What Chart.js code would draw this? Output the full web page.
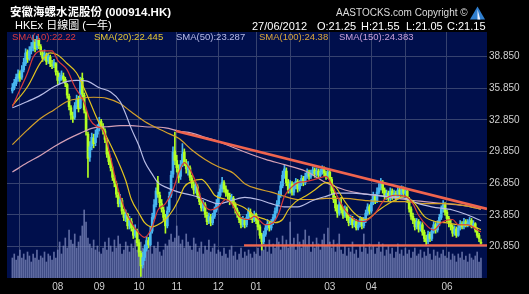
<!DOCTYPE html>
<html><head><meta charset="utf-8">
<script src="https://cdn.jsdelivr.net/npm/chart.js@4/dist/chart.umd.min.js"></script>
<style>
html,body{margin:0;padding:0;background:#000;}
#wrap{position:relative;width:529px;height:294px;overflow:hidden;background:#000;font-family:"Liberation Sans","Noto Sans CJK TC",Arial,sans-serif;}
canvas{position:absolute;left:0;top:0;}
.t{position:absolute;white-space:nowrap;line-height:1;}
</style></head><body>
<div id="wrap">
<canvas id="c" width="529" height="294"></canvas>
<div class="t" style="left:10px;top:7px;font-size:11.5px;font-weight:bold;color:#fff">安徽海螺水泥股份 (000914.HK)</div>
<div class="t" style="left:15px;top:20px;font-size:11px;color:#fff">HKEx 日線圖 (一年)</div>
<div class="t" style="left:336px;top:8px;font-size:10px;color:#dcdcdc">AASTOCKS.com Copyright ©</div>
<svg style="position:absolute;left:469px;top:5px" width="17" height="16" viewBox="0 0 18 16"><polygon points="9,1 17,15 1,15" fill="#2f7fd0"/><polygon points="9,4 12,15 9,15" fill="#e8f0ff"/></svg>
<div class="t" style="left:252px;top:21px;font-size:11px;color:#fff">27/06/2012</div>
<div class="t" style="left:317px;top:21px;font-size:11px;color:#fff">O:21.25</div>
<div class="t" style="left:361px;top:21px;font-size:11px;color:#fff">H:21.55</div>
<div class="t" style="left:406px;top:21px;font-size:11px;color:#fff">L:21.05</div>
<div class="t" style="left:447px;top:21px;font-size:11px;color:#fff">C:21.15</div>
<div class="t" style="left:12px;top:32px;font-size:9.5px;color:#e03c3c">SMA(10):22.22</div>
<div class="t" style="left:94px;top:32px;font-size:9.5px;color:#e6c832">SMA(20):22.445</div>
<div class="t" style="left:176px;top:32px;font-size:9.5px;color:#b8bce8">SMA(50):23.287</div>
<div class="t" style="left:259px;top:32px;font-size:9.5px;color:#dca83a">SMA(100):24.38</div>
<div class="t" style="left:339px;top:32px;font-size:9.5px;color:#c8a0d8">SMA(150):24.383</div>
</div>
<script>
// ---- data (daily, 27/06/2011 .. 27/06/2012; index = trading day) ----
const opens = [
35.6,35.9,36.3,36.8,37.3,36.9,37.6,38.2,39.3,38.7,
39.4,39.7,40.3,39.7,40.4,39.8,39.2,38.8,39.0,38.5,
38.8,38.1,38.0,38.2,37.3,36.6,36.8,37.0,36.7,36.2,
35.1,34.0,33.2,33.1,34.1,34.9,34.0,36.8,35.2,33.6,
31.5,29.3,30.4,31.1,30.7,31.5,32.1,32.7,32.2,31.8,
30.9,29.6,28.9,28.2,27.3,26.8,25.7,24.9,25.2,24.1,
23.5,23.9,22.8,23.2,22.5,21.9,22.3,21.2,20.2,19.1,
19.8,20.6,21.4,21.0,22.3,23.5,24.8,27.0,25.7,24.9,
24.3,23.5,22.8,24.3,25.7,27.7,29.9,29.0,28.2,27.5,
28.7,29.8,28.7,28.1,28.3,27.3,26.7,26.2,26.5,25.6,
25.0,24.5,24.8,23.8,23.3,23.6,23.1,23.7,24.3,24.9,
25.7,26.3,26.9,26.3,25.9,25.7,25.1,25.4,24.8,24.3,
23.9,23.4,22.9,23.3,22.9,23.6,24.1,23.7,23.4,23.9,
23.3,22.7,21.9,21.3,22.0,22.6,23.0,22.6,23.1,23.6,
24.2,24.9,25.7,26.6,27.6,28.0,26.9,26.2,26.8,26.0,
26.6,27.0,26.3,26.8,27.3,26.9,27.5,27.9,27.5,27.8,
28.1,27.7,28.0,27.6,27.9,28.2,27.8,27.5,27.9,27.2,
26.0,25.3,24.5,24.0,24.8,24.3,23.8,24.4,23.6,23.1,
23.5,22.9,23.2,22.6,22.9,23.4,22.8,23.3,24.0,24.6,
24.2,25.0,25.6,25.2,26.0,26.4,26.9,26.2,25.6,25.9,
25.4,26.1,25.6,25.9,25.5,26.2,25.8,26.3,25.9,26.1,
25.3,24.4,23.7,23.3,22.7,23.2,22.5,22.9,22.2,21.6,
21.3,22.0,21.6,22.3,22.9,22.4,23.0,23.6,24.4,24.8,
24.1,23.5,23.0,22.7,22.1,22.5,21.9,22.6,23.0,22.7,
23.2,22.9,23.1,23.3,22.8,23.0,22.4,21.9,21.25];
const highs = [
36.3,36.7,37.2,37.6,37.5,38.0,38.7,39.6,39.5,39.8,
40.2,40.9,40.5,40.8,40.6,40.0,39.4,39.5,39.2,39.2,
39.0,38.5,38.6,38.3,37.5,37.3,37.5,37.3,36.9,36.3,
35.3,34.2,33.6,34.5,35.2,35.1,36.9,37.3,35.4,33.8,
31.7,30.8,31.6,31.5,31.9,32.4,33.1,32.9,32.5,32.0,
31.1,29.9,29.2,28.4,27.6,27.0,26.0,25.8,25.4,24.4,
24.3,24.0,23.7,23.5,22.8,22.9,22.5,21.5,20.4,20.3,
21.0,21.8,21.7,22.7,24.0,25.3,26.4,27.5,26.0,25.3,
24.6,23.9,24.6,26.0,28.0,30.3,31.7,29.5,28.6,29.0,
30.6,30.1,29.1,28.9,28.5,27.6,27.0,26.9,26.7,25.9,
25.3,25.2,25.0,24.1,24.0,23.9,24.0,24.6,25.3,26.0,
26.7,27.4,27.1,26.6,26.2,25.9,25.8,25.6,25.0,24.5,
24.1,23.6,23.7,23.5,23.9,24.5,24.4,23.9,24.2,24.0,
23.6,22.9,22.1,22.3,22.9,23.4,23.2,23.4,23.9,24.5,
25.2,26.1,27.0,28.0,28.6,28.3,27.2,27.1,27.0,26.9,
27.3,27.2,27.1,27.6,27.5,27.8,28.2,28.1,28.1,28.4,
28.3,28.3,28.2,28.2,28.5,28.4,28.0,28.2,28.1,27.4,
26.3,25.6,24.8,25.3,25.5,24.6,24.7,24.6,23.8,23.8,
23.7,23.5,23.4,23.2,23.7,23.6,23.6,24.3,24.9,24.8,
25.3,26.0,25.8,26.4,26.8,27.3,27.1,26.4,26.2,26.1,
26.4,26.3,26.2,26.1,26.5,26.4,26.6,26.5,26.4,26.3,
25.5,24.6,24.0,23.5,23.5,23.4,23.2,23.1,22.4,21.9,
22.3,22.2,22.6,23.2,23.1,23.3,23.9,24.7,25.2,25.0,
24.3,23.7,23.4,22.9,22.8,22.7,22.9,23.3,23.2,23.5,
23.4,23.4,23.6,23.5,23.3,23.1,22.6,22.1,21.55];
const lows = [
35.4,35.7,36.1,36.5,36.5,36.7,37.4,38.0,38.3,38.5,
39.1,39.4,39.3,39.5,39.6,39.0,38.4,38.5,38.1,38.2,
37.9,37.7,37.8,37.1,36.2,36.3,36.6,36.4,36.0,34.9,
33.8,32.9,32.6,32.9,33.9,33.6,33.9,35.0,33.5,31.4,
27.4,28.9,30.0,30.2,30.4,31.2,31.8,32.0,31.5,30.7,
29.3,28.6,28.0,27.1,26.5,25.5,24.6,24.6,23.9,23.3,
23.2,22.5,22.5,22.3,21.6,21.7,20.9,19.9,18.0,18.8,
19.5,20.4,20.7,20.9,22.1,23.4,24.6,25.5,24.5,24.1,
23.3,22.1,22.6,24.1,25.5,27.4,28.6,27.9,26.9,27.2,
28.4,28.5,27.8,27.6,27.1,26.4,25.8,25.9,25.4,24.8,
24.2,24.2,23.6,22.9,23.0,22.8,22.9,23.5,24.1,24.7,
25.5,26.0,26.0,25.6,25.3,24.8,24.9,24.5,24.0,23.6,
23.1,22.6,22.7,22.6,22.7,23.4,23.4,23.1,23.2,23.0,
22.4,21.6,20.5,21.1,21.8,22.4,22.3,22.4,22.9,23.4,
24.0,24.7,25.5,26.4,27.3,26.6,25.9,25.9,25.7,25.7,
26.3,26.0,26.1,26.6,26.6,26.7,27.3,27.2,27.3,27.6,
27.4,27.5,27.3,27.4,27.7,27.5,27.2,27.3,27.0,25.8,
25.0,24.2,23.6,23.8,24.0,23.5,23.6,23.3,22.8,22.9,
22.6,22.7,22.4,22.4,22.7,22.5,22.6,23.1,23.8,23.9,
24.0,24.8,24.9,25.0,25.8,26.2,25.9,25.3,25.3,25.1,
25.2,25.3,25.4,25.2,25.3,25.5,25.6,25.6,25.7,25.0,
24.1,23.4,23.0,22.4,22.5,22.2,22.3,21.9,21.3,21.0,
21.1,21.3,21.4,22.1,22.1,22.2,22.8,23.4,24.1,23.8,
23.2,22.7,22.4,21.8,21.9,21.7,21.8,22.4,22.5,22.5,
22.7,22.7,22.9,22.6,22.6,22.2,21.7,21.3,21.05];
const closes = [
35.9,36.4,36.9,37.2,36.8,37.6,38.3,39.2,38.6,39.4,
39.8,40.2,39.6,40.5,39.9,39.3,38.7,39.1,38.4,38.9,
38.2,38.0,38.3,37.4,36.6,36.9,37.1,36.7,36.3,35.2,
34.1,33.3,33.0,34.2,34.8,33.9,36.6,35.3,33.8,31.8,
29.2,30.3,31.2,30.6,31.5,32.0,32.6,32.3,31.8,31.0,
29.6,28.9,28.3,27.4,26.9,25.8,24.9,25.3,24.2,23.6,
23.9,22.8,23.3,22.6,21.9,22.4,21.2,20.3,19.0,19.8,
20.6,21.4,21.0,22.3,23.6,24.8,26.1,25.8,25.0,24.4,
23.6,22.8,24.2,25.6,27.6,29.8,29.0,28.3,27.4,28.6,
29.6,28.8,28.2,28.4,27.4,26.8,26.2,26.6,25.7,25.1,
24.5,24.9,23.9,23.2,23.7,23.1,23.7,24.3,24.9,25.7,
26.3,26.9,26.3,25.9,25.7,25.1,25.5,24.8,24.3,23.9,
23.4,22.9,23.4,22.9,23.6,24.2,23.7,23.4,23.9,23.3,
22.7,21.9,21.3,22.0,22.6,23.0,22.6,23.1,23.6,24.2,
24.9,25.7,26.6,27.6,28.2,26.9,26.2,26.8,26.0,26.6,
27.0,26.3,26.8,27.3,26.9,27.5,27.9,27.5,27.8,28.1,
27.7,28.0,27.6,27.9,28.2,27.8,27.5,27.9,27.3,26.1,
25.3,24.5,24.0,24.8,24.3,23.8,24.4,23.6,23.1,23.5,
22.9,23.2,22.6,22.9,23.4,22.8,23.3,24.0,24.6,24.2,
25.0,25.6,25.2,26.0,26.4,26.9,26.2,25.6,25.9,25.4,
26.1,25.6,25.9,25.5,26.2,25.8,26.3,25.9,26.1,25.3,
24.4,23.7,23.3,22.7,23.2,22.5,22.9,22.2,21.6,21.3,
22.0,21.6,22.3,22.9,22.4,23.0,23.6,24.4,24.8,24.1,
23.5,23.0,22.7,22.1,22.5,21.9,22.6,23.0,22.7,23.2,
22.9,23.1,23.3,22.8,23.0,22.4,21.9,21.6,21.15];
const volumes = [
10,12,9,11,14,10,12,9,13,11,8,12,10,14,9,11,10,13,8,12,11,9,13,10,
14,18,12,16,20,15,24,19,17,22,15,18,21,26,34,28,20,17,15,19,14,16,13,
12,15,18,14,20,16,13,19,15,21,17,12,14,18,16,13,17,15,19,14,16,
18,15,13,17,14,19,12,16,15,18,13,11,14,17,16,19,22,18,20,26,
21,17,19,15,22,18,16,14,20,17,13,15,18,12,16,14,19,13,15,17,12,14,
13,11,15,12,10,14,16,11,13,9,12,15,10,13,11,14,12,10,13,
12,15,11,18,14,16,13,19,12,17,15,20,18,14,21,16,19,15,28,
17,20,14,22,18,15,19,24,16,21,13,18,15,20,17,14,19,22,16,25,18,
15,19,13,17,22,14,12,16,11,15,13,18,12,14,10,16,13,22,15,12,17,14,
16,12,15,18,13,17,11,14,16,12,15,10,13,17,12,14,11,15,
12,14,10,13,15,11,12,14,10,13,11,15,12,9,14,11,13,10,12,14,11,
10,13,9,12,11,8,12,10,13,9,11,8,12,10,9,11,13,8,10];

// moving averages: [day index, value]
const sma10 = [[0,34.1],[4,35.7],[8,37.3],[11,38.8],[15,39.4],[21,39.4],[24,38.5],[29,37.6],[33,36.0],[38,34.5],[41,32.9],[45,32.2],[48,31.9],[52,29.3],[55,26.9],[59,24.6],[63,23.1],[67,22.1],[70,21.7],[74,22.7],[77,24.3],[81,24.9],[85,26.2],[88,27.8],[91,28.8],[95,27.8],[98,26.5],[100,25.3],[105,24.3],[109,24.6],[113,25.3],[116,24.9],[120,23.7],[125,23.4],[128,23.7],[134,22.9],[138,23.1],[141,24.0],[144,25.6],[148,26.5],[151,26.9],[155,27.0],[160,27.2],[166,27.5],[169,26.7],[172,25.6],[176,24.3],[181,23.4],[186,23.2],[192,24.0],[197,25.3],[203,25.7],[208,25.6],[212,24.9],[215,23.8],[220,22.7],[223,22.4],[227,23.1],[233,23.4],[236,22.9],[241,22.9],[246,22.4],[248,22.22]];
const sma20 = [[0,34.2],[8,36.0],[15,38.3],[20,39.2],[24,39.0],[29,38.2],[34,37.3],[40,35.0],[45,32.9],[50,31.2],[55,29.3],[60,27.1],[63,25.3],[67,24.0],[70,23.1],[74,22.7],[77,22.9],[81,23.4],[85,24.3],[88,25.3],[91,26.5],[95,27.0],[100,27.2],[104,26.5],[107,25.7],[113,25.3],[118,24.9],[123,24.5],[128,23.8],[134,23.4],[139,23.1],[143,23.4],[146,24.3],[150,25.1],[155,25.6],[160,26.2],[166,26.9],[171,26.5],[176,25.1],[181,24.0],[187,23.4],[194,24.3],[201,25.1],[208,25.6],[213,24.9],[218,23.7],[224,23.2],[229,23.1],[236,22.9],[243,22.8],[248,22.445]];
const sma50 = [[0,34.0],[8,34.6],[15,35.2],[22,36.0],[29,36.5],[34,36.6],[40,36.5],[46,35.9],[52,35.5],[57,34.6],[60,33.4],[63,32.0],[67,30.4],[70,28.9],[74,27.7],[77,26.9],[82,26.4],[88,26.0],[95,25.7],[102,25.3],[109,24.9],[116,25.2],[123,25.5],[130,25.3],[137,24.9],[144,24.6],[151,24.6],[159,25.2],[166,25.6],[172,25.9],[180,25.9],[187,25.8],[197,25.6],[208,25.4],[215,24.9],[222,24.6],[233,24.3],[240,23.9],[248,23.287]];
const sma100 = [[0,30.5],[8,31.9],[15,33.0],[22,33.8],[29,34.6],[36,34.9],[43,35.0],[50,34.9],[57,34.4],[63,33.6],[70,32.7],[81,31.7],[88,31.1],[95,30.0],[102,29.1],[109,28.4],[117,27.8],[123,26.8],[130,26.3],[137,26.0],[144,25.6],[151,25.3],[159,25.3],[166,25.4],[176,25.4],[187,25.2],[197,25.1],[208,25.1],[218,24.9],[229,24.9],[240,24.7],[248,24.38]];
const sma150 = [[0,27.9],[8,28.8],[15,29.5],[22,30.3],[29,31.0],[36,31.6],[43,32.1],[50,32.2],[57,32.3],[63,32.3],[70,32.2],[81,32.1],[88,31.8],[95,31.6],[102,31.2],[109,30.8],[116,30.3],[123,29.8],[134,29.1],[144,28.6],[155,28.0],[166,26.9],[176,26.2],[187,25.8],[197,25.6],[208,25.3],[218,25.1],[229,24.9],[240,24.7],[248,24.383]];
// drawn trend lines
const trendDown = [[86.6,31.8],[251.2,24.4]];
const support = [[122.6,20.95],[251.2,20.95]];
// axes
const monthIdx = [4,24,46,67,87,109,129,147,168,190,208,230];
const monthLabels = ['','08','09','10','11','12','01','','03','04','','06'];
const yTicks = [20.85,23.85,26.85,29.85,32.85,35.85,38.85];
const yTickLabels = ['20.850','23.850','26.850','29.850','32.850','35.850','38.850'];

// ---- chart ----
const UP = '#48b6f0', DOWN = '#b2ff22';
const candleColor = ctx => {
  const i = ctx.dataIndex;
  return closes[i] >= opens[i] ? UP : DOWN;
};
const pts = arr => arr.map(p => ({x:p[0], y:p[1]}));
const lineDs = (label, arr, color, order, w) => ({
  type:'line', label, data: pts(arr), borderColor: color, borderWidth: w || 1.2,
  pointRadius: 0, cubicInterpolationMode: 'monotone', order, fill: false
});
Chart.defaults.font.family = "'Liberation Sans', Arial, sans-serif";

const bgPlugin = {
  id: 'bg',
  beforeDraw(chart) {
    const {ctx, chartArea: a} = chart;
    ctx.save();
    ctx.fillStyle = '#000';
    ctx.fillRect(0, 0, chart.width, chart.height);
    ctx.fillStyle = '#000f4c';
    ctx.fillRect(a.left, a.top, a.right - a.left, a.bottom - a.top);
    ctx.restore();
  }
};

new Chart(document.getElementById('c'), {
  type: 'bar',
  data: {
    datasets: [
      Object.assign(lineDs('trend', trendDown, '#f0644e', 0, 2.6), {cubicInterpolationMode:'default'}),
      Object.assign(lineDs('support', support, '#f0644e', 0, 2.2), {cubicInterpolationMode:'default'}),
      lineDs('SMA(10)', sma10, '#d83a3a', 1),
      lineDs('SMA(20)', sma20, '#e2c41e', 2),
      lineDs('SMA(50)', sma50, '#b8bce6', 3),
      lineDs('SMA(100)', sma100, '#d4a02a', 4),
      lineDs('SMA(150)', sma150, '#d4a0b6', 4),
      { type:'bar', label:'body', data: opens.map((o,i)=>({x:i, y:[o, closes[i]]})),
        backgroundColor: candleColor, barThickness: 2, grouped: false, minBarLength: 1, order: 6 },
      { type:'bar', label:'wick', data: lows.map((l,i)=>({x:i, y:[l, highs[i]]})),
        backgroundColor: candleColor, barThickness: 1, grouped: false, order: 7 },
      { type:'bar', label:'volume', yAxisID:'yv', data: volumes.map((v,i)=>({x:i, y:v})),
        backgroundColor: 'rgba(125,138,190,0.75)', barThickness: 1, grouped: false, order: 10 }
    ]
  },
  options: {
    responsive: false, animation: false, devicePixelRatio: 1,
    layout: { padding: { left: 7, top: 32, right: 0, bottom: 0 } },
    plugins: { legend: { display: false }, tooltip: { enabled: false } },
    scales: {
      x: {
        type: 'linear', min: -2.85, max: 251.2, offset: false,
        afterBuildTicks: s => { s.ticks = monthIdx.map(v => ({value: v})); },
        ticks: { autoSkip: false, maxRotation: 0, color: '#cfcfcf', font: {size: 10}, padding: 3,
                 callback: (v, i) => monthLabels[i] },
        grid: { color: '#36426f', lineWidth: 1, drawTicks: false, offset: false },
        border: { display: false },
        afterFit: s => { s.height = 16; }
      },
      y: {
        position: 'right', min: 17.85, max: 41.19,
        afterBuildTicks: s => { s.ticks = yTicks.map(v => ({value: v})); },
        ticks: { color: '#cfcfcf', font: {size: 10}, padding: 2,
                 callback: (v, i) => yTickLabels[i] },
        grid: { color: '#36426f', lineWidth: 1, drawTicks: false },
        border: { display: false },
        afterFit: s => { s.width = 42; }
      },
      yv: { display: false, min: 0, max: 123 }
    }
  },
  plugins: [bgPlugin]
});
</script>
</body></html>
